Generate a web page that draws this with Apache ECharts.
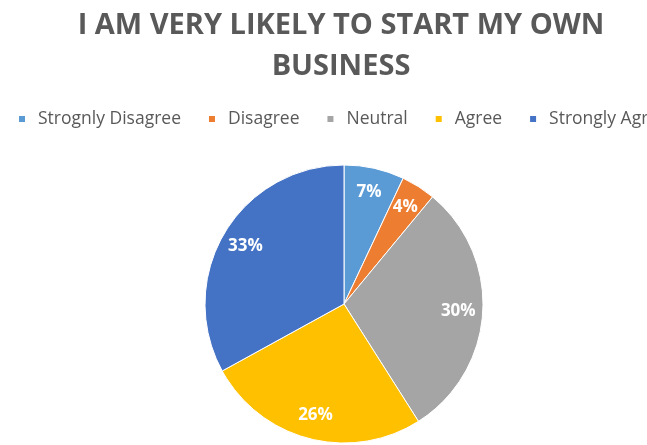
<!DOCTYPE html>
<html><head><meta charset="utf-8">
<script src="https://cdn.jsdelivr.net/npm/echarts@6/dist/echarts.min.js"></script>
<style>html,body{margin:0;padding:0;background:#fff}#c{width:647px;height:445px}</style>
</head><body><div id="c"></div>
<script>
const titleText = 'I AM VERY LIKELY TO START MY OWN\nBUSINESS';
const categories = ['Strognly Disagree', 'Disagree', 'Neutral', 'Agree', 'Strongly Agree'];
const values = [7, 4, 30, 26, 33];
const colors = ['#5B9BD5', '#ED7D31', '#A5A5A5', '#FFC000', '#4472C4'];

const data = categories.map((n, i) => ({ name: n, value: values[i] }));
const chart = echarts.init(document.getElementById('c'), null, { renderer: 'canvas' });
chart.setOption({
  animation: false,
  color: colors,
  title: {
    text: titleText, left: 341, textAlign: 'center', top: 5, padding: 0,
    textStyle: { fontFamily: 'Open Sans', fontWeight: 'bold', fontSize: 29, color: '#595959', lineHeight: 41 }
  },
  legend: {
    data: categories, left: 17, top: 110, width: 2000, itemGap: 26, padding: 0,
    icon: 'rect', itemWidth: 8, itemHeight: 8,
    textStyle: { fontFamily: 'Open Sans', fontSize: 17.5, color: '#595959', padding: [0, 0, 0, 7] }
  },
  series: [
    {
      type: 'pie', center: [344, 304], radius: 139, startAngle: 90, clockwise: true,
      data: data, label: { show: false }, labelLine: { show: false },
      itemStyle: { borderColor: '#ffffff', borderWidth: 1 }, emphasis: { disabled: true }
    },
    {
      type: 'pie', center: [344, 304], radius: [84, 139], startAngle: 90, clockwise: true,
      data: data, silent: true, legendHoverLink: false,
      itemStyle: { color: 'rgba(0,0,0,0)' },
      label: { show: true, position: 'inside', formatter: '{d}%',
        fontFamily: 'Open Sans', fontWeight: 'bold', fontSize: 17, color: '#ffffff' },
      labelLine: { show: false }, emphasis: { disabled: true }
    }
  ]
});
</script></body></html>
